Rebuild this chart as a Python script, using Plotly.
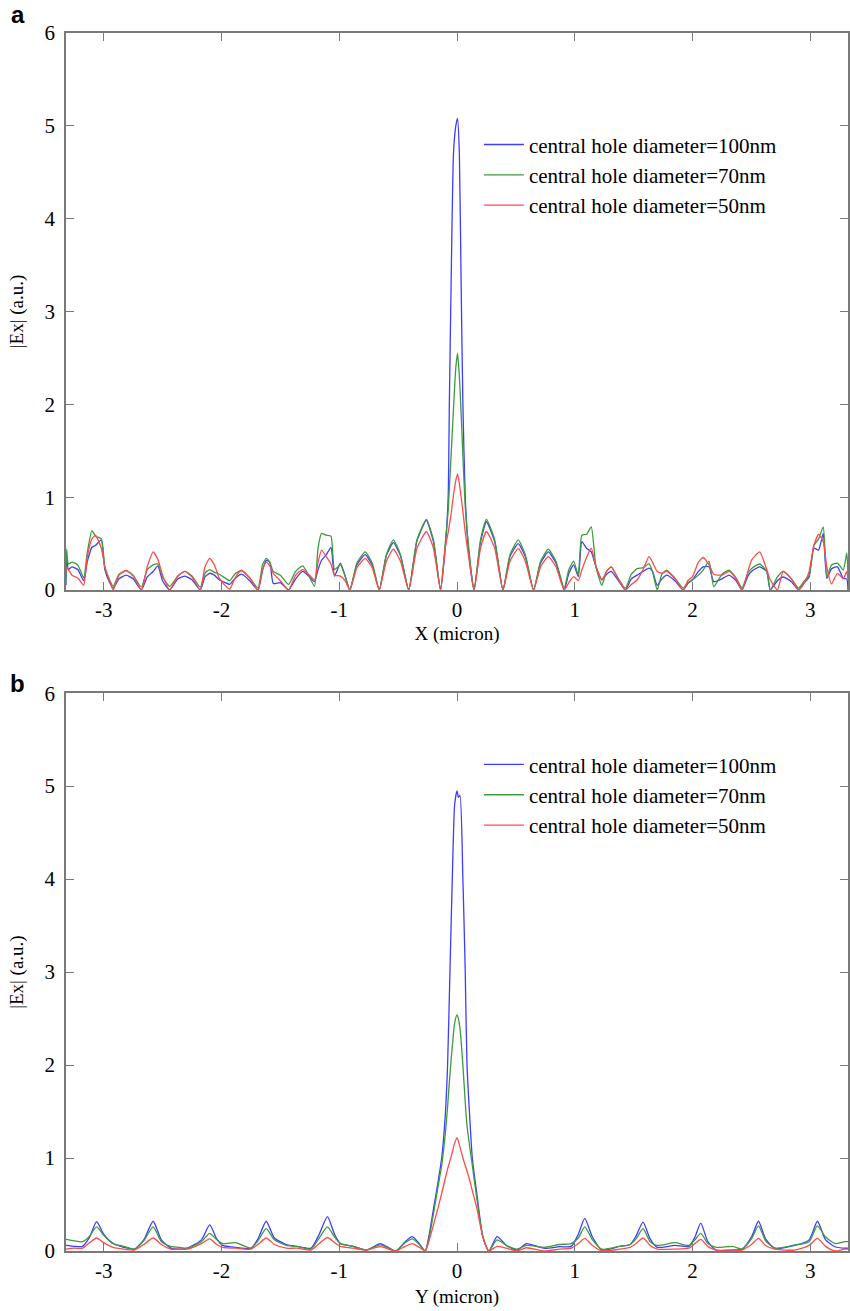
import plotly.graph_objects as go

# ---------------- data: panel a (X cut) ----------------
x_a = [-3.32, -3.315, -3.30, -3.27, -3.22, -3.17, -3.14, -3.10, -3.07, -3.02, -2.99, -2.95, -2.92,
       -2.87, -2.81, -2.75, -2.68, -2.63, -2.58, -2.54, -2.50, -2.44, -2.37, -2.31, -2.25, -2.18,
       -2.14, -2.10, -2.06, -2.02, -1.97, -1.93, -1.88, -1.83, -1.76, -1.69, -1.65, -1.62, -1.59,
       -1.56, -1.50, -1.43, -1.37, -1.31, -1.26, -1.21, -1.18, -1.15, -1.11, -1.07, -1.04, -0.99,
       -0.95, -0.91, -0.85, -0.78, -0.72, -0.66, -0.60, -0.54, -0.48, -0.41, -0.34, -0.26, -0.20,
       -0.14, -0.10, -0.075, -0.065, -0.05, -0.03, -0.01, 0.005, 0.02, 0.035, 0.05, 0.07, 0.10,
       0.145, 0.20, 0.25, 0.32, 0.39, 0.45, 0.52, 0.58, 0.65, 0.71, 0.775, 0.84, 0.91, 0.95, 0.99,
       1.03, 1.06, 1.10, 1.14, 1.18, 1.23, 1.27, 1.31, 1.37, 1.43, 1.48, 1.53, 1.58, 1.63, 1.66,
       1.70, 1.74, 1.78, 1.85, 1.92, 1.96, 2.00, 2.05, 2.09, 2.14, 2.18, 2.25, 2.31, 2.37, 2.42,
       2.47, 2.50, 2.57, 2.63, 2.66, 2.72, 2.77, 2.84, 2.90, 2.95, 2.99, 3.03, 3.07, 3.11, 3.14,
       3.18, 3.23, 3.28, 3.31, 3.32]

a_100nm = [0.05, 0.36, 0.22, 0.25, 0.22, 0.10, 0.30, 0.46, 0.48, 0.54, 0.22, 0.08, 0.02,
           0.12, 0.16, 0.12, 0.00, 0.14, 0.20, 0.26, 0.10, 0.00, 0.12, 0.15, 0.11, 0.00,
           0.14, 0.18, 0.16, 0.11, 0.08, 0.06, 0.13, 0.17, 0.10, 0.00, 0.22, 0.32, 0.30,
           0.07, 0.08, 0.00, 0.12, 0.20, 0.15, 0.09, 0.22, 0.32, 0.38, 0.46, 0.15, 0.29,
           0.15, 0.00, 0.27, 0.38, 0.27, 0.00, 0.37, 0.51, 0.37, 0.00, 0.53, 0.75, 0.52,
           0.00, 0.45, 1.00, 2.00, 3.30, 4.70, 5.00, 5.08, 4.70, 3.30, 2.00, 1.00, 0.40,
           0.00, 0.52, 0.735, 0.52, 0.00, 0.36, 0.50, 0.36, 0.00, 0.29, 0.41, 0.29, 0.00, 0.18, 0.27,
           0.145, 0.52, 0.45, 0.41, 0.25, 0.11, 0.17, 0.20, 0.10, 0.00, 0.12, 0.16, 0.20, 0.235, 0.20,
           0.05, 0.12, 0.16, 0.10, 0.00, 0.07, 0.11, 0.20, 0.25, 0.25, 0.09, 0.12, 0.16, 0.10, 0.00,
           0.15, 0.20, 0.25, 0.20, 0.00, 0.10, 0.14, 0.09, 0.00, 0.08, 0.14, 0.45, 0.43, 0.61, 0.125,
           0.23, 0.25, 0.125, 0.12, 0.00]

a_70nm = [0.10, 0.44, 0.28, 0.30, 0.27, 0.13, 0.40, 0.64, 0.58, 0.55, 0.24, 0.11, 0.04,
          0.17, 0.21, 0.16, 0.03, 0.22, 0.27, 0.28, 0.14, 0.04, 0.15, 0.20, 0.15, 0.03,
          0.18, 0.22, 0.19, 0.17, 0.13, 0.10, 0.18, 0.21, 0.13, 0.02, 0.28, 0.34, 0.30,
          0.20, 0.16, 0.06, 0.20, 0.26, 0.16, 0.04, 0.45, 0.61, 0.59, 0.58, 0.22, 0.27,
          0.15, 0.00, 0.29, 0.41, 0.29, 0.00, 0.38, 0.54, 0.38, 0.00, 0.54, 0.76, 0.54,
          0.00, 0.50, 0.85, 1.10, 1.45, 1.95, 2.40, 2.55, 2.30, 1.90, 1.45, 0.90, 0.45,
          0.00, 0.54, 0.76, 0.54, 0.00, 0.38, 0.54, 0.38, 0.00, 0.31, 0.44, 0.31, 0.02, 0.22, 0.31,
          0.16, 0.59, 0.60, 0.68, 0.25, 0.05, 0.20, 0.25, 0.12, 0.02, 0.17, 0.23, 0.24, 0.285, 0.20,
          0.00, 0.17, 0.215, 0.13, 0.02, 0.08, 0.11, 0.16, 0.215, 0.31, 0.035, 0.17, 0.215, 0.13, 0.02,
          0.18, 0.23, 0.28, 0.20, 0.00, 0.14, 0.20, 0.12, 0.02, 0.10, 0.16, 0.48, 0.55, 0.68, 0.14,
          0.27, 0.29, 0.215, 0.40, 0.15]

a_50nm = [0.20, 0.24, 0.22, 0.16, 0.13, 0.05, 0.35, 0.55, 0.59, 0.45, 0.25, 0.10, 0.00,
          0.16, 0.21, 0.15, 0.00, 0.25, 0.41, 0.33, 0.16, 0.00, 0.15, 0.20, 0.14, 0.00,
          0.25, 0.34, 0.27, 0.13, 0.05, 0.01, 0.14, 0.21, 0.13, 0.00, 0.22, 0.30, 0.26,
          0.18, 0.10, 0.00, 0.16, 0.22, 0.17, 0.11, 0.30, 0.43, 0.36, 0.28, 0.16, 0.15,
          0.10, 0.00, 0.24, 0.34, 0.24, 0.00, 0.31, 0.44, 0.31, 0.00, 0.45, 0.63, 0.45,
          0.00, 0.45, 0.62, 0.70, 0.82, 1.02, 1.18, 1.25, 1.15, 1.00, 0.85, 0.62, 0.35,
          0.00, 0.45, 0.63, 0.45, 0.00, 0.31, 0.445, 0.31, 0.00, 0.25, 0.36, 0.25, 0.00, 0.08, 0.145,
          0.10, 0.215, 0.35, 0.45, 0.25, 0.11, 0.20, 0.25, 0.12, 0.00, 0.06, 0.11, 0.22, 0.36, 0.30,
          0.20, 0.18, 0.20, 0.12, 0.00, 0.10, 0.145, 0.30, 0.35, 0.27, 0.17, 0.16, 0.20, 0.12, 0.00,
          0.20, 0.32, 0.41, 0.22, 0.11, 0.00, 0.20, 0.12, 0.00, 0.08, 0.20, 0.48, 0.60, 0.52, 0.25,
          0.065, 0.18, 0.125, 0.20, 0.10]

# ---------------- data: panel b (Y cut) ----------------
x_b = [-3.32, -3.25, -3.18, -3.12, -3.06, -3.00, -2.92, -2.83, -2.74, -2.66, -2.58, -2.51, -2.43,
       -2.36, -2.29, -2.17, -2.10, -2.04, -1.99, -1.88, -1.75, -1.69, -1.62, -1.55, -1.45, -1.36,
       -1.24, -1.17, -1.10, -1.04, -0.99, -0.88, -0.77, -0.65, -0.52, -0.44, -0.38, -0.32, -0.27,
       -0.24, -0.20, -0.16, -0.13, -0.10, -0.08, -0.06, -0.04, -0.02, 0.00, 0.012, 0.025, 0.05,
       0.07, 0.085, 0.11, 0.13, 0.17, 0.22, 0.27, 0.34, 0.42, 0.51, 0.59, 0.74, 0.87, 0.97, 1.03,
       1.085, 1.15, 1.23, 1.38, 1.47, 1.52, 1.58, 1.64, 1.70, 1.85, 1.97, 2.02, 2.07, 2.13, 2.20,
       2.34, 2.42, 2.50, 2.56, 2.62, 2.70, 2.87, 2.99, 3.06, 3.13, 3.21, 3.29, 3.32]

b_100nm = [0.06, 0.05, 0.05, 0.15, 0.315, 0.18, 0.08, 0.04, 0.02, 0.12, 0.32, 0.12, 0.03,
           0.02, 0.03, 0.12, 0.28, 0.13, 0.06, 0.04, 0.03, 0.13, 0.32, 0.14, 0.07, 0.05,
           0.03, 0.18, 0.37, 0.18, 0.08, 0.05, 0.01, 0.08, 0.00, 0.10, 0.155, 0.08, 0.00,
           0.15, 0.45, 0.75, 1.00, 1.45, 2.00, 3.00, 4.00, 4.80, 4.95, 4.88, 4.90, 4.00,
           3.00, 2.00, 1.40, 1.00, 0.60, 0.15, 0.00, 0.155, 0.06, 0.01, 0.08, 0.03, 0.046, 0.05, 0.18,
           0.35, 0.15, 0.01, 0.05, 0.07, 0.16, 0.31, 0.13, 0.04, 0.06, 0.05, 0.15, 0.30, 0.10, 0.01,
           0.01, 0.02, 0.15, 0.32, 0.13, 0.03, 0.06, 0.12, 0.32, 0.12, 0.046, 0.03, 0.03]

b_70nm = [0.125, 0.11, 0.10, 0.16, 0.26, 0.17, 0.08, 0.05, 0.02, 0.11, 0.26, 0.10, 0.05,
          0.04, 0.03, 0.10, 0.19, 0.12, 0.08, 0.09, 0.03, 0.11, 0.24, 0.12, 0.06, 0.05,
          0.02, 0.14, 0.26, 0.15, 0.08, 0.05, 0.01, 0.065, 0.00, 0.09, 0.13, 0.07, 0.00,
          0.12, 0.40, 0.70, 0.92, 1.25, 1.55, 1.90, 2.20, 2.45, 2.54, 2.50, 2.40, 2.00,
          1.60, 1.35, 1.10, 0.92, 0.55, 0.15, 0.00, 0.12, 0.06, 0.02, 0.06, 0.04, 0.07, 0.08, 0.14,
          0.26, 0.12, 0.02, 0.05, 0.07, 0.13, 0.24, 0.10, 0.06, 0.09, 0.06, 0.12, 0.19, 0.08, 0.04,
          0.05, 0.02, 0.13, 0.27, 0.11, 0.03, 0.065, 0.10, 0.27, 0.15, 0.08, 0.10, 0.10]

b_50nm = [0.02, 0.03, 0.03, 0.09, 0.14, 0.09, 0.04, 0.02, 0.01, 0.07, 0.14, 0.07, 0.02,
          0.02, 0.02, 0.08, 0.13, 0.07, 0.04, 0.03, 0.02, 0.07, 0.14, 0.07, 0.03, 0.03,
          0.01, 0.08, 0.145, 0.09, 0.05, 0.03, 0.01, 0.047, 0.00, 0.05, 0.08, 0.04, 0.00,
          0.10, 0.28, 0.47, 0.62, 0.78, 0.88, 0.97, 1.06, 1.16, 1.22, 1.18, 1.12, 1.00,
          0.92, 0.86, 0.75, 0.65, 0.45, 0.15, 0.00, 0.05, 0.03, 0.00, 0.035, 0.00, 0.02, 0.03, 0.08,
          0.135, 0.06, 0.00, 0.02, 0.04, 0.08, 0.14, 0.06, 0.02, 0.02, 0.03, 0.08, 0.125, 0.05, 0.01,
          0.01, 0.01, 0.07, 0.135, 0.06, 0.02, 0.01, 0.06, 0.135, 0.05, 0.00, 0.02, 0.02]

names = ["central hole diameter=100nm", "central hole diameter=70nm", "central hole diameter=50nm"]
colors = ["#3d3dff", "#3c9c3c", "#ff4a4a"]
x_ticks = [-3, -2, -1, 0, 1, 2, 3]
x_ticklabels = ["-3", "-2", "-1", "0", "1", "2", "3"]
y_ticks = [0, 1, 2, 3, 4, 5, 6]

# ---------------- figure ----------------
fig = go.Figure()
for ys, nm, c in zip([a_100nm, a_70nm, a_50nm], names, colors):
    fig.add_trace(go.Scatter(x=x_a, y=ys, name=nm, mode="lines",
                             line=dict(color=c, width=1.3, shape="spline", smoothing=0.5),
                             xaxis="x", yaxis="y", legend="legend"))
for ys, nm, c in zip([b_100nm, b_70nm, b_50nm], names, colors):
    fig.add_trace(go.Scatter(x=x_b, y=ys, name=nm, mode="lines",
                             line=dict(color=c, width=1.3, shape="spline", smoothing=0.6),
                             xaxis="x2", yaxis="y2", legend="legend2"))

serif = "Liberation Serif, Times New Roman, serif"
axis_common = dict(showline=True, mirror="ticks", linecolor="#7a7a7a", linewidth=1.5,
                   ticks="inside", ticklen=8, tickcolor="#7a7a7a", tickwidth=1.2,
                   showgrid=False, zeroline=False, automargin=False,
                   tickfont=dict(family=serif, size=21, color="black"))
title_font = dict(family=serif, size=19, color="black")

fig.update_layout(
    width=850, height=1311,
    margin=dict(l=66, r=2, t=33, b=60),
    plot_bgcolor="white", paper_bgcolor="white",
    xaxis=dict(axis_common, range=[-3.32, 3.32], tickvals=x_ticks, ticktext=x_ticklabels,
               anchor="y", domain=[0, 1],
               title=dict(text="X (micron)", font=title_font, standoff=6)),
    yaxis=dict(axis_common, range=[0, 6], tickvals=y_ticks, anchor="x", domain=[0.5427, 1.0],
               ticklabelstandoff=5,
               title=dict(text="|Ex| (a.u.)", font=title_font, standoff=16)),
    xaxis2=dict(axis_common, range=[-3.32, 3.32], tickvals=x_ticks, ticktext=x_ticklabels,
                anchor="y2", domain=[0, 1],
                title=dict(text="Y (micron)", font=title_font, standoff=8)),
    yaxis2=dict(axis_common, range=[0, 6], tickvals=y_ticks, anchor="x2", domain=[0, 0.458],
                ticklabelstandoff=5,
                title=dict(text="|Ex| (a.u.)", font=title_font, standoff=16)),
    legend=dict(x=0.528, y=0.925, xanchor="left", yanchor="top", bgcolor="rgba(0,0,0,0)",
                itemwidth=40, font=dict(family=serif, size=21, color="black"), tracegroupgap=0),
    legend2=dict(x=0.528, y=0.416, xanchor="left", yanchor="top", bgcolor="rgba(0,0,0,0)",
                 itemwidth=40, font=dict(family=serif, size=21, color="black"), tracegroupgap=0),
    annotations=[
        dict(text="<b>a</b>", xref="paper", yref="paper", x=-0.062, y=1.0148, xanchor="center",
             yanchor="middle", showarrow=False,
             font=dict(family="Liberation Sans, Arial", size=24, color="black")),
        dict(text="<b>b</b>", xref="paper", yref="paper", x=-0.062, y=0.4663, xanchor="center",
             yanchor="middle", showarrow=False,
             font=dict(family="Liberation Sans, Arial", size=24, color="black")),
    ],
)

fig.write_html(
    "out.html",
    config={"displayModeBar": False},
    post_script="document.body.style.margin='0';document.body.style.overflow='hidden';"
                "document.documentElement.style.overflow='hidden';",
)
